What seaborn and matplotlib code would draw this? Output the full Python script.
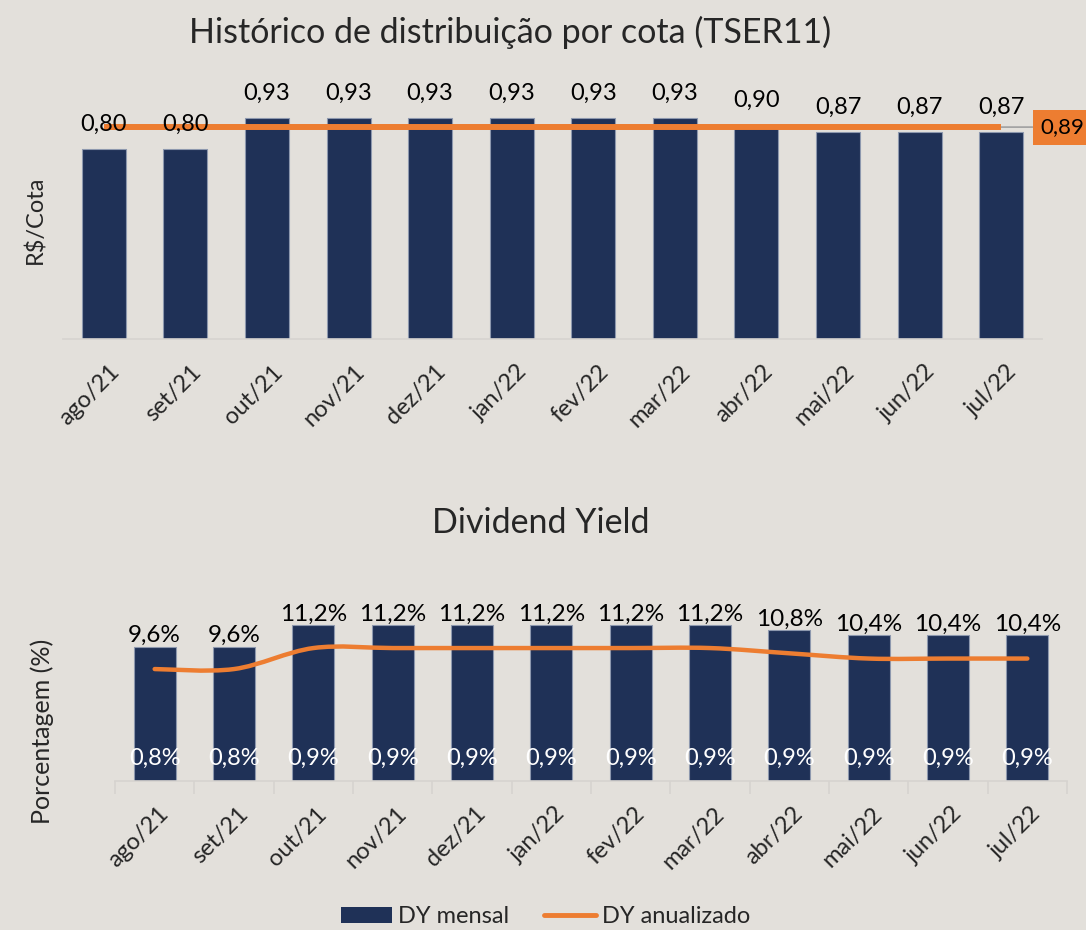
import matplotlib
matplotlib.use("Agg")
import matplotlib.pyplot as plt
import seaborn as sns
from matplotlib.path import Path
from matplotlib.patches import PathPatch, Patch
from matplotlib.lines import Line2D
import matplotlib.transforms as mtransforms

meses = ['ago/21', 'set/21', 'out/21', 'nov/21', 'dez/21', 'jan/22',
         'fev/22', 'mar/22', 'abr/22', 'mai/22', 'jun/22', 'jul/22']
rs_cota = [0.80, 0.80, 0.93, 0.93, 0.93, 0.93, 0.93, 0.93, 0.90, 0.87, 0.87, 0.87]
media_rs = 0.89
dy_mensal = [0.80, 0.80, 0.93, 0.93, 0.93, 0.93, 0.93, 0.93, 0.90, 0.87, 0.87, 0.87]
dy_anual = [9.6, 9.6, 11.2, 11.2, 11.2, 11.2, 11.2, 11.2, 10.8, 10.4, 10.4, 10.4]

BG = '#E3E0DB'
NAVY = '#1F3157'
ORANGE = '#ED7D31'
EDGE = '#8D98AE'

sns.set_theme(style='white')
plt.rcParams['font.family'] = ['Lato', 'DejaVu Sans']

fig = plt.figure(figsize=(10.86, 9.3), dpi=100, facecolor=BG)


def br(v, nd):
    return f'{v:.{nd}f}'.replace('.', ',')


def fmt_ticks(ax, dx_px):
    ax.set_xticks(range(len(meses)))
    ax.set_xticklabels(meses, rotation=45, ha='right', rotation_mode='anchor',
                       fontsize=17)
    off = mtransforms.ScaledTranslation(dx_px / 100, 0, fig.dpi_scale_trans)
    for lab in ax.get_xticklabels():
        lab.set_transform(lab.get_transform() + off)


# ---------- Grafico de cima: R$/cota ----------
ax1 = fig.add_axes([0.058, 0.6355, 0.9015, 0.256])
ax1.set_facecolor(BG)
sns.barplot(x=meses, y=rs_cota, color=NAVY, saturation=1, width=0.54,
            edgecolor=EDGE, linewidth=0.8, ax=ax1)
ax1.set_xlim(-0.5, 11.5)
ax1.set_ylim(0, 1.0)
for i, v in enumerate(rs_cota):
    ax1.annotate(br(v, 2), (i, v), xytext=(0, 10), textcoords='offset points',
                 ha='center', va='bottom', fontsize=17, color='black', zorder=7)
ax1.plot([0, 11], [media_rs, media_rs], color=ORANGE, lw=4.3, solid_capstyle='butt', zorder=5)
ax1.annotate(br(media_rs, 2), (11, media_rs), xytext=(28, 0), textcoords='offset points',
             ha='left', va='center', fontsize=16, color='black',
             bbox=dict(boxstyle='square,pad=0.34', fc=ORANGE, ec='none'),
             arrowprops=dict(arrowstyle='-', color='#A0A0A0', lw=1.2,
                             shrinkA=0, shrinkB=0),
             annotation_clip=False)
ax1.set_yticks([])
ax1.set_ylabel('R$/Cota', fontsize=17, labelpad=12)
for s in ['top', 'right', 'left']:
    ax1.spines[s].set_visible(False)
ax1.spines['bottom'].set_color('#D6D3CF')
ax1.spines['bottom'].set_linewidth(1.2)
ax1.tick_params(axis='x', length=0, pad=16)
fmt_ticks(ax1, 5)
ax1.set_xlabel('')
fig.text(0.47, 0.965, 'Histórico de distribuição por cota (TSER11)', ha='center',
         va='center', fontsize=24.5)

# ---------- Grafico de baixo: Dividend Yield ----------
ax2 = fig.add_axes([0.1059, 0.1602, 0.8766, 0.1946])
ax2.set_facecolor(BG)
sns.barplot(x=meses, y=dy_mensal, color=NAVY, saturation=1, width=0.53,
            edgecolor=EDGE, linewidth=0.8, ax=ax2)
ax2.set_xlim(-0.5, 11.5)
ax2.set_ylim(0, 1.08)
for i, (m, a) in enumerate(zip(dy_mensal, dy_anual)):
    ax2.annotate(br(a, 1) + '%', (i, m), xytext=(0, 0.5), textcoords='offset points',
                 ha='center', va='bottom', fontsize=17.5, color='black', zorder=6)
    ax2.annotate(br(m, 1) + '%', (i, 0), xytext=(0, 16.5), textcoords='offset points',
                 ha='center', va='center', fontsize=17, color='white', zorder=6)

ax2b = ax2.twinx()
ax2b.set_ylim(1.067, 14.86)
ax2b.set_yticks([])
for s in ax2b.spines.values():
    s.set_visible(False)

# linha suavizada (Bezier tipo Catmull-Rom sobre os pontos)
pts = list(zip(range(len(dy_anual)), dy_anual))
verts = [pts[0]]
codes = [Path.MOVETO]
for i in range(len(pts) - 1):
    p0 = pts[i - 1] if i > 0 else pts[i]
    p1 = pts[i]
    p2 = pts[i + 1]
    p3 = pts[i + 2] if i + 2 < len(pts) else pts[i + 1]
    c1 = (p1[0] + (p2[0] - p0[0]) / 6, p1[1] + (p2[1] - p0[1]) / 6)
    c2 = (p2[0] - (p3[0] - p1[0]) / 6, p2[1] - (p3[1] - p1[1]) / 6)
    verts += [c1, c2, p2]
    codes += [Path.CURVE4] * 3
ax2b.add_patch(PathPatch(Path(verts, codes), fc='none', ec=ORANGE, lw=3.2,
                         capstyle='round', zorder=4))

ax2.set_yticks([])
ax2.set_ylabel('Porcentagem (%)', fontsize=18)
ax2.yaxis.set_label_coords(-0.064, 0.276)
for s in ['top', 'right', 'left']:
    ax2.spines[s].set_visible(False)
ax2.spines['bottom'].set_color('#D6D3CF')
ax2.spines['bottom'].set_linewidth(1.2)
ax2.set_xticks([x - 0.5 for x in range(13)], minor=True)
ax2.tick_params(axis='x', which='major', length=0, pad=16)
ax2.tick_params(axis='x', which='minor', length=9, width=1.2, color='#D6D3CF',
                direction='out', bottom=True)
fmt_ticks(ax2, 3)
ax2.set_xlabel('')
fig.text(0.498, 0.438, 'Dividend Yield', ha='center', va='center', fontsize=24.5)

handles = [Patch(fc=NAVY, ec='none', label='DY mensal'),
           Line2D([0], [0], color=ORANGE, lw=3.5, label='DY anualizado')]
fig.legend(handles=handles, loc='center', bbox_to_anchor=(0.502, 0.014), ncol=2,
           frameon=False, fontsize=17, handlelength=2.2, handleheight=0.64,
           columnspacing=1.45, handletextpad=0.25)

fig.savefig('out.png', dpi=100, facecolor=BG)
